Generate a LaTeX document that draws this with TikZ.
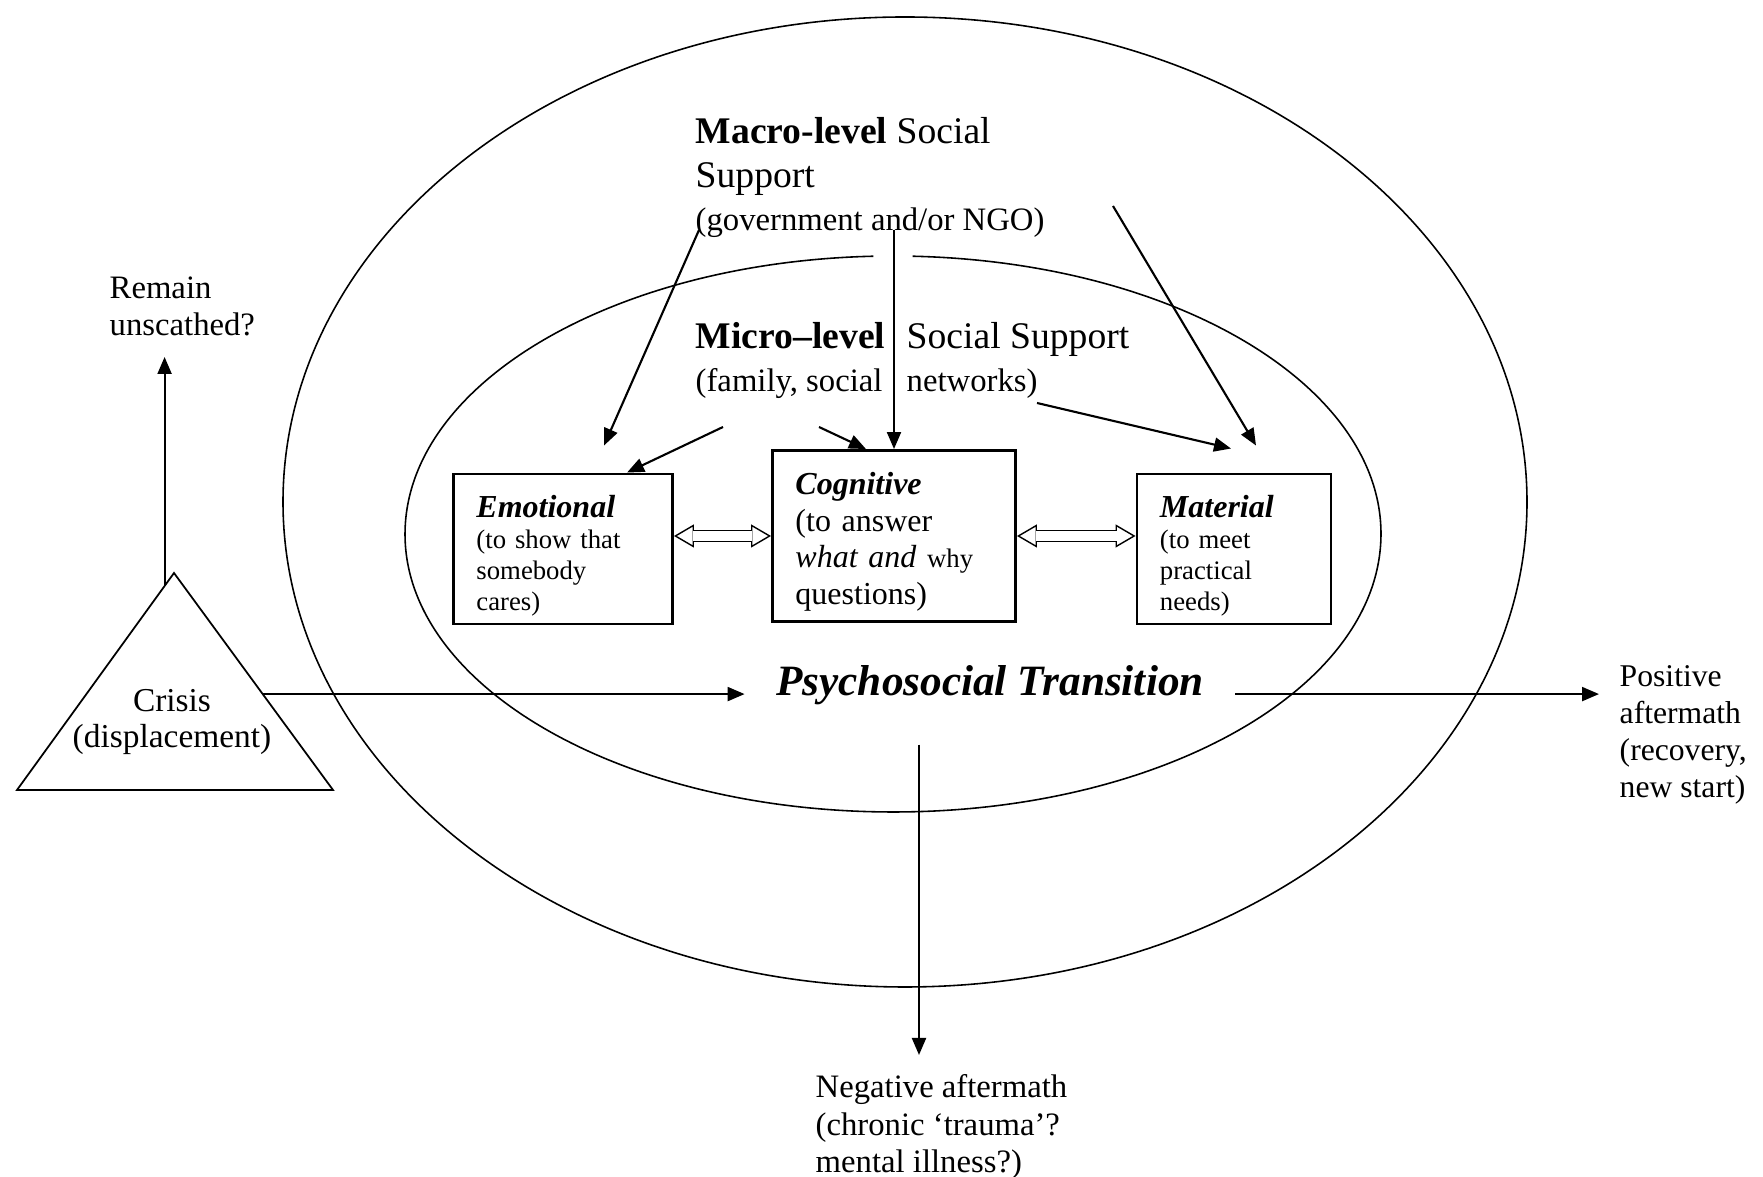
\documentclass[tikz,border=0pt]{standalone}
\usepackage{fontspec}
\setmainfont{Liberation Serif}
\usetikzlibrary{arrows,arrows.meta,calc}

\begin{document}
\begin{tikzpicture}[>={Triangle[length=1.7mm,width=1.4mm]}, x=0.01cm, y=-0.01cm]
  \tikzstyle{txt} = [inner sep=0pt, align=left, font=\fontsize{9.3}{10.6}\selectfont]
  \tikzstyle{head} = [inner sep=0pt, align=left, font=\fontsize{10.7}{12.5}\selectfont]
  \tikzstyle{square} = [draw, thick, align=left, inner xsep=2.3mm, inner ysep=0pt, font=\fontsize{7.6}{8.8}\selectfont]
  \tikzstyle{sides} = [draw, line width=0.4pt, {Triangle[open,length=2mm,width=2.3mm]}-{Triangle[open,length=2mm,width=2.3mm]}]
  \tikzstyle{shaft} = [draw, double, double distance=0.95mm, line width=0.4pt, shorten <=1.9mm, shorten >=1.9mm]
  \useasboundingbox (0,0) rectangle (1763,1177);
  % macro and micro spheres
  \draw[line width=0.45pt] (905,502) ellipse (622 and 485);
  \draw[line width=0.45pt] (893,534) ++(272.3:488 and 278)
    arc[start angle=272.3, end angle=627.7, x radius=488, y radius=278];
  % crisis triangle
  \coordinate (apex) at (174,573);
  \coordinate (bl) at (17,790);
  \coordinate (br) at (333,790);
  \draw[line width=0.5pt] (apex) -- (bl) -- (br) -- cycle;
  \coordinate (crisisup) at ($(apex)!0.06!(bl)$);
  \coordinate (crisisr) at ($(apex)!0.558!(br)$);
  \node[txt, align=center, font=\fontsize{9.5}{10.5}\selectfont] (crisis) at (172,722) {Crisis\\(displacement)};
  \node[txt, anchor=south west, inner ysep=2mm] (remain) at (109,357) {Remain\\unscathed?};
  % support texts
  \node[head, anchor=base west] (macro) at (695,231)
    {\textbf{Macro-level} Social\\Support\\{\fontsize{9.3}{11}\selectfont(government and/or NGO)}};
  \node[head, anchor=base west] (micro) at (695,392)
    {\textbf{Micro--level}\\{\fontsize{9.3}{12}\selectfont(family, social}};
  \node[head, anchor=base west] (micror) at (906,392)
    {Social Support\\{\fontsize{9.3}{12}\selectfont networks)}};
  % kinds of support
  \node[square, text width=1.73cm, minimum height=1.5cm] (emo) at (563,549)
    {{\fontsize{9.1}{10.5}\selectfont\rule{0pt}{10.3pt}\textbf{\textit{Emotional}}\par}(to show that\\somebody\\cares)};
  \node[square, text width=1.97cm, minimum height=1.71cm, font=\fontsize{9.1}{10.5}\selectfont] (cog) at (894,536)
    {\rule{0pt}{9.6pt}\textbf{\textit{Cognitive}}\\(to answer\\\textit{what and} {\fontsize{7.6}{8.8}\selectfont why}\\questions)};
  \node[square, text width=1.48cm, minimum height=1.5cm] (mat) at (1234,549)
    {{\fontsize{9.1}{10.5}\selectfont\rule{0pt}{10.3pt}\textbf{\textit{Material}}\par}(to meet\\practical\\needs)};
  % transition and outcomes
  \node[font=\fontsize{12.3}{14}\selectfont\bfseries\itshape, inner xsep=3.1mm, inner ysep=0pt, minimum height=11.8mm] (trans) at (990,685) {Psychosocial Transition};
  \node[txt, anchor=west, inner xsep=2mm, font=\fontsize{9}{10.5}\selectfont] (pos) at (1599,735) {Positive\\aftermath\\(recovery,\\new start)};
  \node[txt, anchor=north west, inner ysep=1.9mm, font=\fontsize{9.3}{10.6}\selectfont] (neg) at (815,1055) {Negative aftermath\\(chronic `trauma'?\\mental illness?)};
  \coordinate (negx) at (919,740);
  \coordinate (mac1) at (699,230);
  \coordinate (mac2) at (894,230);
  \coordinate (mac3) at (1113,206);
  \coordinate (mic1) at (723,427);
  \coordinate (mic2) at (819,427);
  \coordinate (mic3) at (1037,403);
  \path[->, semithick]
    (mac1) edge ([xshift=4.1mm, yshift=2.7mm]emo.north)
    (mac2) edge (cog.north)
    (mac3) edge ([xshift=2.2mm, yshift=2.7mm]mat.north)
    (mic1) edge ([xshift=6.4mm]emo.north)
    (mic2) edge ([xshift=-2.8mm]cog.north)
    (mic3) edge ([xshift=-0.3mm, yshift=2.4mm]mat.north)
    (crisisup) edge (crisisup |- remain.south)
    (crisisr) edge (crisisr -| trans.west)
    (trans.east |- crisisr) edge (pos.west |- crisisr)
    (trans.south -| negx) edge (negx |- neg.north);
  % two-way links between the kinds of support
  \path[sides] (emo.east |- cog.west) -- (cog.west);
  \path[shaft] (emo.east |- cog.west) -- (cog.west);
  \path[sides] (cog.east) -- (mat.west |- cog.east);
  \path[shaft] (cog.east) -- (mat.west |- cog.east);
\end{tikzpicture}
\end{document}
